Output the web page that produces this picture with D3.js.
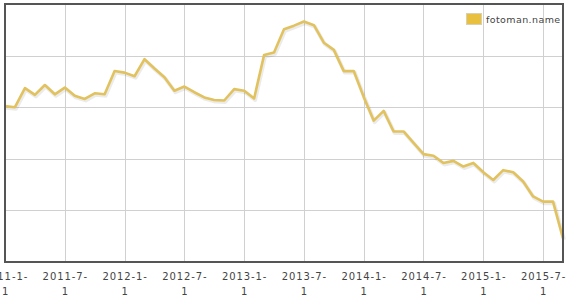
<!DOCTYPE html>
<html><head><meta charset="utf-8">
<script src="https://cdn.jsdelivr.net/npm/d3@7"></script>
<style>html,body{margin:0;padding:0;background:#fff;}svg{display:block;}</style>
</head><body>
<svg id="chart" width="574" height="299"></svg>
<script>
const months = ["2011-01","2011-02","2011-03","2011-04","2011-05","2011-06","2011-07","2011-08","2011-09","2011-10","2011-11","2011-12",
"2012-01","2012-02","2012-03","2012-04","2012-05","2012-06","2012-07","2012-08","2012-09","2012-10","2012-11","2012-12",
"2013-01","2013-02","2013-03","2013-04","2013-05","2013-06","2013-07","2013-08","2013-09","2013-10","2013-11","2013-12",
"2014-01","2014-02","2014-03","2014-04","2014-05","2014-06","2014-07","2014-08","2014-09","2014-10","2014-11","2014-12",
"2015-01","2015-02","2015-03","2015-04","2015-05","2015-06","2015-07","2015-08","2015-09"];
const values = [3.02,3.00,3.37,3.24,3.43,3.25,3.38,3.22,3.16,3.27,3.25,3.70,
3.67,3.60,3.93,3.75,3.58,3.32,3.40,3.29,3.19,3.14,3.13,3.35,
3.32,3.17,4.01,4.06,4.51,4.58,4.66,4.59,4.25,4.11,3.70,3.70,
3.20,2.74,2.93,2.53,2.53,2.31,2.09,2.06,1.92,1.96,1.85,1.92,
1.74,1.59,1.78,1.74,1.56,1.27,1.17,1.17,0.46];
const tickMonths = ["2011-01","2011-07","2012-01","2012-07","2013-01","2013-07","2014-01","2014-07","2015-01","2015-07"];
const tickLabels = ["2011-1-1","2011-7-1","2012-1-1","2012-7-1","2013-1-1","2013-7-1","2014-1-1","2014-7-1","2015-1-1","2015-7-1"];
const gridValues = [1,2,3,4];
const seriesName = "fotoman.name";

const svg = d3.select("#chart");
const L = 5, R = 563, T = 4, B = 262;
const x = d3.scalePoint().domain(months).range([L, R]);
const y = d3.scaleLinear().domain([0, 5]).range([B, T]);

// grid
svg.append("g").selectAll("line.h").data(gridValues).join("line")
  .attr("x1", L).attr("x2", R).attr("y1", d => Math.round(y(d)) + 0.5).attr("y2", d => Math.round(y(d)) + 0.5)
  .attr("stroke", "#d0d0d0").attr("stroke-width", 1);
svg.append("g").selectAll("line.v").data(tickMonths.slice(1)).join("line")
  .attr("x1", d => Math.round(x(d)) + 0.5).attr("x2", d => Math.round(x(d)) + 0.5).attr("y1", T).attr("y2", B)
  .attr("stroke", "#d0d0d0").attr("stroke-width", 1);

// line with soft shadow
const line = d3.line().x((d, i) => x(months[i])).y(d => y(d));
svg.append("path").datum(values).attr("d", line).attr("fill", "none")
  .attr("stroke", "rgba(0,0,0,0.08)").attr("stroke-width", 4).attr("transform", "translate(1,1.5)")
  .attr("stroke-linejoin", "round");
svg.append("path").datum(values).attr("d", line).attr("fill", "none")
  .attr("stroke", "#e2c25e").attr("stroke-width", 2.6).attr("stroke-linejoin", "round");

// frame
svg.append("rect").attr("x", L).attr("y", T).attr("width", R - L).attr("height", B - T)
  .attr("fill", "none").attr("stroke", "#555").attr("stroke-width", 2);

// x labels
const lab = svg.append("g").attr("font-family", "DejaVu Sans, Verdana, sans-serif").attr("font-size", "10px")
  .attr("fill", "#444").attr("letter-spacing", "0.9px");
tickMonths.forEach((m, i) => {
  const parts = tickLabels[i].split("-");
  const first = parts[0] + "-" + parts[1] + "-";
  const g = lab.append("g").attr("transform", `translate(${x(m)},0)`);
  g.append("text").attr("x", 0.5).attr("y", 280).attr("text-anchor", "middle").text(first);
  g.append("text").attr("x", 0.5).attr("y", 294.5).attr("text-anchor", "middle").text(parts[2]);
});

// legend
svg.append("rect").attr("x", 466.5).attr("y", 13.5).attr("width", 15).attr("height", 11)
  .attr("fill", "#e8c03e").attr("stroke", "#d8d0b0").attr("stroke-width", 1);
svg.append("text").attr("x", 486).attr("y", 23).attr("font-family", "DejaVu Sans, Verdana, sans-serif")
  .attr("font-size", "9.5px").attr("fill", "#444").attr("letter-spacing", "0.4px").text(seriesName);
</script>
</body></html>
